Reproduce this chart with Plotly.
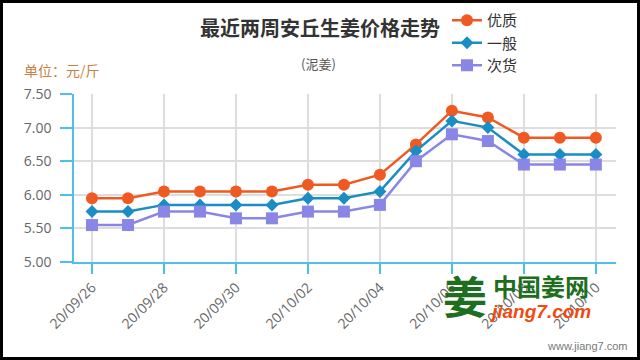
import plotly.graph_objects as go

dates = ["20/09/26", "20/09/27", "20/09/28", "20/09/29", "20/09/30", "20/10/01", "20/10/02",
         "20/10/03", "20/10/04", "20/10/05", "20/10/06", "20/10/07", "20/10/08", "20/10/09", "20/10/10"]
premium = [5.95, 5.95, 6.05, 6.05, 6.05, 6.05, 6.15, 6.15, 6.30, 6.75, 7.25, 7.15, 6.85, 6.85, 6.85]
ordinary = [5.75, 5.75, 5.85, 5.85, 5.85, 5.85, 5.95, 5.95, 6.05, 6.65, 7.10, 7.00, 6.60, 6.60, 6.60]
inferior = [5.55, 5.55, 5.75, 5.75, 5.65, 5.65, 5.75, 5.75, 5.85, 6.50, 6.90, 6.80, 6.45, 6.45, 6.45]
series_names = ["优质", "一般", "次货"]
tick_labels = dates[::2]
y_ticks = [5.0, 5.5, 6.0, 6.5, 7.0, 7.5]

W, H = 640, 360
ML, MR, MT, MB = 74, 24, 94, 98
PW, PH = W - ML - MR, H - MT - MB

def px(x):
    return (x - ML) / PW

def py(y):
    return (H - MB - y) / PH

CJK = "Noto Sans CJK SC, Microsoft YaHei, sans-serif"
NUM = "Open Sans, sans-serif"
axis_blue = "#4cc0ea"

fig = go.Figure()
styles = [
    dict(color="#f05a22", symbol="circle", size=12),
    dict(color="#1a8dc4", symbol="diamond", size=10),
    dict(color="#8a86e6", symbol="square", size=12),
]
for name, vals, st in zip(series_names, [premium, ordinary, inferior], styles):
    fig.add_trace(go.Scatter(
        x=dates, y=vals, name=name, mode="lines+markers",
        line=dict(color=st["color"], width=2.5),
        marker=dict(color=st["color"], symbol=st["symbol"], size=st["size"]),
    ))

fig.update_layout(
    width=W, height=H,
    margin=dict(l=ML, r=MR, t=MT, b=MB, autoexpand=False),
    paper_bgcolor="white", plot_bgcolor="white",
    font=dict(family=CJK, color="#555"),
    title=dict(text="<b>最近两周安丘生姜价格走势</b>", xref="container", x=0.5, xanchor="center",
               yref="container", y=1 - 29 / H, yanchor="middle",
               font=dict(size=20, color="#333", family=CJK)),
    legend=dict(x=px(447), y=py(4), xanchor="left", yanchor="top",
                font=dict(size=15, color="#333", family=CJK),
                bgcolor="rgba(0,0,0,0)", itemwidth=30, tracegroupgap=0),
    xaxis=dict(
        type="category", range=[-0.5, 14.56],
        tickmode="array", tickvals=tick_labels, ticktext=tick_labels,
        tickangle=-45, tickfont=dict(size=14, color="#666", family=NUM),
        showgrid=True, gridcolor="#dddddd", gridwidth=1.5,
        showline=True, linecolor=axis_blue, linewidth=1.5,
        ticks="outside", ticklen=10, tickcolor=axis_blue, tickwidth=1.5,
        zeroline=False,
    ),
    yaxis=dict(
        range=[5.0, 7.5], tickvals=y_ticks, tickformat=".2f",
        tickfont=dict(size=14, color="#666", family=NUM),
        showgrid=True, gridcolor="#dddddd", gridwidth=1.5,
        showline=True, linecolor=axis_blue, linewidth=1.5,
        ticks="outside", ticklen=12, tickcolor=axis_blue, tickwidth=1.5,
        ticklabelstandoff=6, zeroline=False,
    ),
    showlegend=True,
)

annotations = [
    dict(text="(泥姜)", x=px(318), y=py(63), font=dict(size=13, color="#555", family=CJK),
         xanchor="center", yanchor="middle"),
    dict(text="单位：元/斤", x=px(22), y=py(70), font=dict(size=14, color="#c9813f", family=CJK),
         xanchor="left", yanchor="middle"),
    dict(text="<b>姜</b>", x=px(465), y=py(295), font=dict(size=44, color="#1d6e1d", family=CJK),
         xanchor="center", yanchor="middle"),
    dict(text="<b>中国姜网</b>", x=px(541), y=py(285), font=dict(size=24, color="#1d6e1d", family=CJK),
         xanchor="center", yanchor="middle"),
    dict(text="<b><i>jiang7.com</i></b>", x=px(540), y=py(311), font=dict(size=19, color="#f04a10", family="Liberation Sans, Arial"),
         xanchor="center", yanchor="middle"),
    dict(text="www.jiang7.com", x=px(629), y=py(346), font=dict(size=11, color="#777", family="Liberation Sans, Arial"),
         xanchor="right", yanchor="middle"),
]
for a in annotations:
    a.update(xref="paper", yref="paper", showarrow=False)
fig.update_layout(annotations=annotations)

fig.add_shape(type="rect", xref="paper", yref="paper",
              x0=px(1.5), x1=px(638.5), y0=py(1.5), y1=py(358.5),
              line=dict(color="black", width=3), fillcolor="rgba(0,0,0,0)", layer="above")

fig.write_html("out.html", config={"displayModeBar": False},
               post_script="document.body.style.margin='0px';document.body.style.overflow='hidden';")
